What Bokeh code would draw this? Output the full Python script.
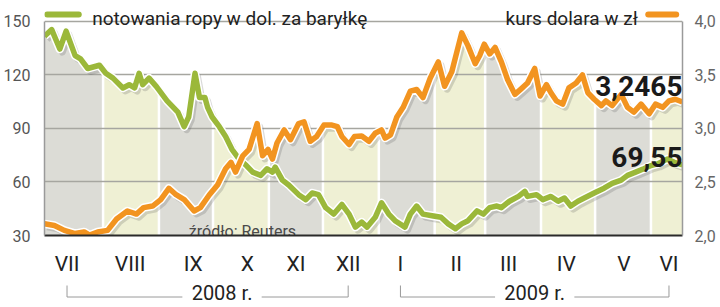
import numpy as np
from bokeh.plotting import figure
from bokeh.models import Range1d, LinearAxis, FixedTicker, CustomJSTickFormatter
from bokeh.layouts import column
from bokeh.embed import file_html
from bokeh.resources import INLINE
from bokeh.core.properties import value

# ---------------- data (x = days since 2008-07-01) ----------------
month_labels = ["VII", "VIII", "IX", "X", "XI", "XII", "I", "II", "III", "IV", "V", "VI"]
month_starts = [0, 31, 62, 92, 123, 153, 184, 215, 243, 274, 304, 335]
month_tick_pos = [11, 46, 81, 111, 138, 167, 196, 227, 256, 288, 320, 345]
year_labels = ["2008 r.", "2009 r."]
year_text_x = [97, 270.5]

oil_day = [-1.5, 2.5, 7, 10.5, 15.5, 18.5, 22.5, 29, 32.5, 36.5, 42, 45.5, 48.5, 51, 53,
           56.5, 60.5, 66.5, 72.5, 76, 78.5, 82, 84.5, 87.5, 89, 91.5, 95.5, 99, 102.5,
           106.5, 110.5, 114, 118.5, 122, 125, 126.5, 130.5, 134, 139.5, 143.5, 147, 150.5,
           154.5, 159, 163.5, 167.5, 171, 174.5, 177.5, 182, 185.5, 189.5, 193, 198.5,
           201.5, 205, 208.5, 213.5, 218.5, 222.5, 226.5, 230, 233.5, 238.5, 242, 245.5,
           249.5, 252, 256.5, 261.5, 265, 266.5, 271.5, 275, 279.5, 283.5, 287, 290.5,
           294.5, 298, 303.5, 309, 313.5, 318.5, 322, 326.5, 331, 335, 338.5, 344, 348, 352.5]
oil_usd = [141.7, 145.4, 134.5, 144.5, 130.8, 129.0, 123.6, 125.4, 120.9, 118.2, 112.7, 114.5,
           112.7, 120.9, 114.5, 118.2, 113.6, 105.5, 99.1, 91.0, 96.4, 120.9, 107.3, 107.3,
           101.8, 96.4, 91.0, 85.5, 78.3, 72.8, 69.2, 65.5, 63.7, 67.4, 65.5, 68.3, 61.0,
           58.3, 52.9, 50.1, 53.8, 52.9, 45.6, 42.0, 47.4, 42.0, 34.7, 37.5, 34.7, 40.2,
           48.3, 42.0, 38.3, 34.7, 42.0, 46.5, 42.0, 41.1, 40.2, 36.5, 33.8, 36.5, 38.3,
           43.8, 42.0, 45.6, 46.5, 45.6, 49.2, 51.9, 54.7, 51.9, 52.9, 50.1, 51.9, 49.2,
           51.0, 46.5, 49.2, 51.0, 53.8, 56.5, 59.2, 61.0, 63.7, 65.5, 67.4, 69.2, 70.1,
           72.8, 71.0, 69.55]

usd_day = [-1.5, 4, 9.5, 15.5, 20.5, 23.5, 28, 33.5, 38.5, 44.5, 49.5, 53.5, 58.5, 63, 67.5,
           71.5, 76, 81.5, 85, 90, 94.5, 99, 102, 104.5, 108.5, 112, 116.5, 119.5, 122.5,
           125, 127.5, 131.5, 135, 139.5, 142.5, 146, 149.5, 153.5, 158, 161, 163.5, 167.5,
           170.5, 174.5, 178.5, 182, 185.5, 187.5, 190.5, 194, 197.5, 201.5, 205, 208.5,
           212.5, 217, 220.5, 224.5, 230, 233.5, 237.5, 240, 242.5, 245.5, 248.5, 252,
           255.5, 259.5, 263, 266.5, 270.5, 273.5, 277, 279.5, 282.5, 286, 289.5, 293.5,
           297, 300, 303.5, 307.5, 310, 313.5, 318.5, 322, 325.5, 329.5, 334, 337.5, 341.5,
           345, 348.5, 352.5]
usd_pln = [2.109, 2.094, 2.048, 2.018, 2.033, 2.003, 2.033, 2.048, 2.154, 2.229, 2.200, 2.260,
           2.275, 2.336, 2.441, 2.381, 2.336, 2.229, 2.260, 2.381, 2.472, 2.623, 2.683, 2.592,
           2.744, 2.804, 3.046, 2.744, 2.804, 2.714, 2.864, 2.986, 2.895, 3.046, 3.061, 2.880,
           2.925, 3.031, 3.031, 3.016, 2.925, 2.850, 2.925, 2.930, 2.880, 2.955, 2.986, 2.910,
           2.940, 3.107, 3.197, 3.349, 3.364, 3.288, 3.469, 3.621, 3.394, 3.530, 3.893, 3.771,
           3.605, 3.681, 3.787, 3.696, 3.757, 3.621, 3.454, 3.318, 3.370, 3.424, 3.560, 3.303,
           3.409, 3.333, 3.258, 3.227, 3.379, 3.424, 3.499, 3.333, 3.273, 3.213, 3.258, 3.213,
           3.318, 3.197, 3.152, 3.227, 3.137, 3.227, 3.197, 3.258, 3.273, 3.2465]

left_ticks = [30, 60, 90, 120, 150]
right_ticks = [2.0, 2.5, 3.0, 3.5, 4.0]

# ---------------- styling ----------------
GREEN = "#9bb83a"
ORANGE = "#f29420"
GREY_BAND = "#dcdcd6"
YELLOW_BAND = "#eff0d4"
FONT = "Roboto"

X0, X1 = -1.5, 352.5
Y0, Y1 = 30, 161.7
PLN0 = 2.0
PLN1 = 2.0 + (Y1 - 30) / 60.0


def to_left(r):
    return 30 + (np.asarray(r) - 2.0) * 60.0


p = figure(width=720, height=278, x_range=Range1d(X0, X1), y_range=Range1d(Y0, Y1),
           min_border_left=41, min_border_right=38, min_border_top=0, min_border_bottom=36,
           toolbar_location=None, output_backend="svg", outline_line_color=None,
           background_fill_color="white", border_fill_color="white")
p.extra_y_ranges = {"pln": Range1d(PLN0, PLN1)}

# bands under the upper envelope of both lines
grid_x = np.union1d(np.union1d(oil_day, usd_day), month_starts + [X1])
grid_x = grid_x[(grid_x >= X0) & (grid_x <= X1)]
env = np.maximum(np.interp(grid_x, oil_day, oil_usd), np.interp(grid_x, usd_day, to_left(usd_pln)))
edges = [X0] + month_starts[1:] + [X1]
for i in range(len(edges) - 1):
    a, b = edges[i], edges[i + 1]
    m = (grid_x > a) & (grid_x < b)
    xs = np.concatenate([[a], grid_x[m], [b]])
    ys = np.interp(xs, grid_x, env)
    p.varea(x=xs, y1=np.full(len(xs), 30.0), y2=ys,
            fill_color=GREY_BAND if i % 2 == 0 else YELLOW_BAND, level="image")
p.segment(x0=month_starts[1:], x1=month_starts[1:], y0=[30] * 11, y1=[150] * 11,
          line_color="white", line_width=2.5, level="image")

# axes
p.xaxis.ticker = FixedTicker(ticks=month_tick_pos)
p.xaxis.major_label_overrides = {t: l for t, l in zip(month_tick_pos, month_labels)}
p.xaxis.axis_line_color = "#2a2a2a"
p.xaxis.axis_line_width = 2
p.xaxis.major_tick_line_color = None
p.xaxis.minor_tick_line_color = None
p.xaxis.major_label_standoff = 10
p.xaxis.major_label_text_font = FONT
p.xaxis.major_label_text_font_size = "21px"
p.xaxis.major_label_text_color = "#222222"

p.yaxis.ticker = FixedTicker(ticks=left_ticks)
p.yaxis.bounds = (30, 150)
p.yaxis.axis_line_color = "#9a9a9a"
p.yaxis.axis_line_width = 1.5
p.yaxis.major_tick_line_color = None
p.yaxis.minor_tick_line_color = None
p.yaxis.major_label_standoff = 8
p.yaxis.major_label_text_font = FONT
p.yaxis.major_label_text_font_size = "16px"
p.yaxis.major_label_text_color = "#555555"

ry = LinearAxis(y_range_name="pln", ticker=FixedTicker(ticks=right_ticks),
                formatter=CustomJSTickFormatter(code="return tick.toFixed(1).replace('.', ',');"),
                bounds=(2.0, 4.0))
ry.axis_line_color = "#9a9a9a"
ry.axis_line_width = 1.5
ry.major_tick_line_color = None
ry.minor_tick_line_color = None
ry.major_label_standoff = 6
ry.major_label_text_font = FONT
ry.major_label_text_font_size = "16px"
ry.major_label_text_color = "#666666"
p.add_layout(ry, "right")

p.xgrid.visible = False
p.ygrid.ticker = FixedTicker(ticks=[60, 90, 120, 150])
p.ygrid.grid_line_color = "#a6a6a0"
p.ygrid.grid_line_width = 1.5

# shadows
p.line(np.asarray(oil_day) + 1.4, np.asarray(oil_usd) - 1.7, line_color="#555555",
       line_alpha=0.22, line_width=7, line_join="round")
p.line(np.asarray(usd_day) + 1.4, np.asarray(usd_pln) - 1.7 / 60, y_range_name="pln",
       line_color="#555555", line_alpha=0.22, line_width=7, line_join="round")

# oil line
p.line(oil_day, oil_usd, line_color="white", line_width=8.5, line_join="round")
p.line(oil_day, oil_usd, line_color=GREEN, line_width=5.5, line_join="round")
# usd line
p.line(usd_day, usd_pln, y_range_name="pln", line_color="white", line_width=8.5, line_join="round")
p.line(usd_day, usd_pln, y_range_name="pln", line_color=ORANGE, line_width=5.5, line_join="round")

# legend
p.line([0, 17.5], [153.8, 153.8], line_color=GREEN, line_width=6, line_cap="round")
p.text(x=[25], y=[151.7], text=["notowania ropy w dol. za baryłkę"], text_font=value(FONT),
       text_font_size="19px", text_color="#222222", text_align="left", text_baseline="alphabetic")
p.line([333.5, 349], [153.8, 153.8], line_color=ORANGE, line_width=6, line_cap="round")
p.text(x=[327.7], y=[151.7], text=["kurs dolara w zł"], text_font=value(FONT),
       text_font_size="19px", text_color="#222222", text_align="right", text_baseline="alphabetic")

# last-value annotations
last_usd = usd_pln[-1]
last_oil = oil_usd[-1]
p.text(x=[X1], y=[float(to_left(last_usd)) + 9.0], text=[f"{last_usd:.4f}".replace(".", ",")],
       text_font=value(FONT), text_font_style="bold", text_font_size="28px",
       text_color="#1a1a1a", text_align="right", text_baseline="alphabetic")
p.text(x=[X1], y=[last_oil + 4.5], text=[f"{last_oil:.2f}".replace(".", ",")],
       text_font=value(FONT), text_font_style="bold", text_font_size="28px",
       text_color="#1a1a1a", text_align="right", text_baseline="alphabetic")

# source
p.text(x=[78.6], y=[32.3], text=["źródło: Reuters"], text_font=value(FONT),
       text_font_size="16px", text_color="#4a4a4a", text_align="left", text_baseline="alphabetic")

# ---------------- year brackets ----------------
QH = 29
q = figure(width=720, height=QH, x_range=p.x_range, y_range=Range1d(QH, 0),
           min_border_left=41, min_border_right=38, min_border_top=0, min_border_bottom=0,
           toolbar_location=None, output_backend="svg", x_axis_type=None, y_axis_type=None,
           outline_line_color=None, background_fill_color="white", border_fill_color="white")
groups = [(month_tick_pos[0], month_tick_pos[5]), (month_tick_pos[6], month_tick_pos[11])]
half_gap = 22
for (a, b), cx, lab in zip(groups, year_text_x, year_labels):
    q.segment(x0=[a, cx + half_gap, a, b], x1=[cx - half_gap, b, a, b],
              y0=[18.5, 18.5, 18.5, 18.5], y1=[18.5, 18.5, 7, 7],
              line_color="#9a9a9a", line_width=1)
    q.text(x=[cx], y=[14], text=[lab], text_font=value(FONT), text_font_size="20px",
           text_color="#222222", text_align="center", text_baseline="middle")

layout = column(p, q, spacing=0)
open("out.html", "w").write(file_html(layout, INLINE))
